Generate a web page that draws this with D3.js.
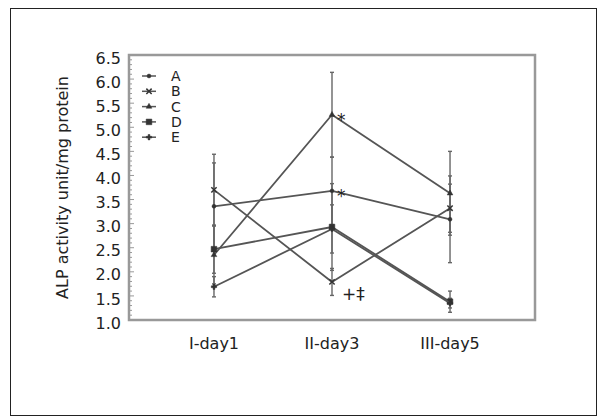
<!DOCTYPE html>
<html lang="en">
<head>
    <meta charset="UTF-8">
    <title>ALP activity</title>
    <script src="https://d3js.org/d3.v7.min.js"></script>
    <style type="text/css">
        body { margin: 0; background: #fff; }
        svg { font-family: "DejaVu Sans", sans-serif; }
        .tick-label { font-size: 16px; fill: #222; }
        .line { fill: none; stroke: #555; stroke-width: 1.8px; stroke-linejoin: round; }
        .err { stroke: #666; stroke-width: 1.4px; }
        .frame { fill: none; stroke: #999; stroke-width: 2.5px; }
        .legend text { font-size: 14px; fill: #222; }
        .note { font-size: 17px; fill: #222; }
    </style>
</head>
<body>
    <script type="text/javascript">
        // data
        const categories = ["I-day1", "II-day3", "III-day5"];
        const seriesNames = ["A", "B", "C", "D", "E"];
        const meanA = [3.36, 3.68, 3.09];
        const meanB = [3.70, 1.79, 3.32];
        const meanC = [2.35, 5.26, 3.63];
        const meanD = [2.47, 2.93, 1.38];
        const meanE = [1.69, 2.89, 1.35];
        const errA = [0.90, 0.70, 0.90];
        const errB = [0.74, 0.28, 0.50];
        const errC = [0.60, 0.88, 0.87];
        const errD = [0.50, 0.90, 0.22];
        const errE = [0.21, 0.50, 0.10];
        const yTicks = [1.0, 1.5, 2.0, 2.5, 3.0, 3.5, 4.0, 4.5, 5.0, 5.5, 6.0, 6.5];
        // significance marks: series, category index, text
        const notes = [
            { series: "C", cat: 1, text: "*" },
            { series: "A", cat: 1, text: "*" },
            { series: "B", cat: 1, text: "+‡" }
        ];

        const width = 601;
        const height = 419;
        const plot = { left: 129, right: 535, top: 55, bottom: 320 };

        const series = [
            { name: "A", means: meanA, errs: errA, symbol: d3.symbolCircle, size: 12 },
            { name: "B", means: meanB, errs: errB, symbol: d3.symbolX, size: 20 },
            { name: "C", means: meanC, errs: errC, symbol: d3.symbolTriangle, size: 14 },
            { name: "D", means: meanD, errs: errD, symbol: d3.symbolSquare, size: 32 },
            { name: "E", means: meanE, errs: errE, symbol: d3.symbolCross, size: 16 }
        ];

        const svg = d3.select("body")
            .append("svg")
            .attr("width", width)
            .attr("height", height);

        // outer figure border
        svg.append("rect")
            .attr("x", 10.5).attr("y", 8.5)
            .attr("width", 586).attr("height", 407)
            .attr("fill", "none")
            .attr("stroke", "#222")
            .attr("stroke-width", 1);

        const xScale = d3.scalePoint()
            .domain(categories)
            .range([plot.left, plot.right])
            .padding(0.72);

        const yScale = d3.scaleLinear()
            .domain([1.0, 6.5])
            .range([plot.bottom, plot.top]);

        // minor ticks inside the left frame
        svg.append("g")
            .selectAll("line")
            .data(d3.range(10, 66).map(d => d / 10))
            .join("line")
            .attr("x1", plot.left)
            .attr("x2", d => plot.left + (Math.round(d * 10) % 5 === 0 ? 5 : 3))
            .attr("y1", d => yScale(d))
            .attr("y2", d => yScale(d))
            .attr("stroke", "#999")
            .attr("stroke-width", 1);

        svg.append("rect")
            .attr("class", "frame")
            .attr("x", plot.left)
            .attr("y", plot.top)
            .attr("width", plot.right - plot.left)
            .attr("height", plot.bottom - plot.top);

        // y tick labels
        svg.append("g")
            .selectAll("text")
            .data(yTicks)
            .join("text")
            .attr("class", "tick-label")
            .attr("x", plot.left - 8)
            .attr("y", d => yScale(d) + 3)
            .attr("dy", "0.35em")
            .attr("text-anchor", "end")
            .text(d => d.toFixed(1));

        // x labels
        svg.append("g")
            .selectAll("text")
            .data(categories)
            .join("text")
            .attr("class", "tick-label")
            .attr("x", d => xScale(d))
            .attr("y", plot.bottom + 23)
            .attr("dy", "0.35em")
            .attr("text-anchor", "middle")
            .text(d => d);

        svg.append("text")
            .attr("class", "tick-label")
            .attr("transform", `translate(62,${(plot.top + plot.bottom) / 2}) rotate(-90)`)
            .attr("text-anchor", "middle")
            .attr("dy", "0.35em")
            .text("ALP activity unit/mg protein");

        // error bars
        series.forEach(s => {
            const g = svg.append("g");
            categories.forEach((c, i) => {
                const x = xScale(c);
                const lo = yScale(s.means[i] - s.errs[i]);
                const hi = yScale(s.means[i] + s.errs[i]);
                g.append("line").attr("class", "err")
                    .attr("x1", x).attr("x2", x).attr("y1", lo).attr("y2", hi);
                [lo, hi].forEach(y => {
                    g.append("line").attr("class", "err")
                        .attr("x1", x - 2).attr("x2", x + 2).attr("y1", y).attr("y2", y);
                });
            });
        });

        const line = d3.line()
            .x((d, i) => xScale(categories[i]))
            .y(d => yScale(d));

        series.forEach(s => {
            svg.append("path")
                .datum(s.means)
                .attr("class", "line")
                .attr("d", line);
            svg.append("g")
                .selectAll("path")
                .data(s.means)
                .join("path")
                .attr("transform", (d, i) => `translate(${xScale(categories[i])},${yScale(d)})`)
                .attr("d", d3.symbol().type(s.symbol).size(s.size))
                .attr("fill", s.symbol === d3.symbolX ? "none" : "#333")
                .attr("stroke", "#333")
                .attr("stroke-width", s.symbol === d3.symbolX ? 1.5 : 0.5);
        });

        // significance marks
        notes.forEach(n => {
            const s = series.find(d => d.name === n.series);
            const x = xScale(categories[n.cat]);
            const y = yScale(s.means[n.cat]);
            const below = n.text !== "*";
            svg.append("text")
                .attr("class", "note")
                .attr("x", x + (below ? 10 : 5))
                .attr("y", below ? y + 18 : y + 11)
                .text(n.text);
        });

        // legend
        const legend = svg.append("g").attr("class", "legend");
        series.forEach((s, i) => {
            const y = 76 + i * 15.3;
            legend.append("line")
                .attr("x1", 142).attr("x2", 156)
                .attr("y1", y).attr("y2", y)
                .attr("stroke", "#555").attr("stroke-width", 1.5);
            legend.append("path")
                .attr("transform", `translate(149,${y})`)
                .attr("d", d3.symbol().type(s.symbol).size(s.size))
                .attr("fill", s.symbol === d3.symbolX ? "none" : "#333")
                .attr("stroke", "#333")
                .attr("stroke-width", s.symbol === d3.symbolX ? 1.5 : 0.5);
            legend.append("text")
                .attr("x", 171)
                .attr("y", y)
                .attr("dy", "0.35em")
                .text(s.name);
        });
    </script>
</body>
</html>
